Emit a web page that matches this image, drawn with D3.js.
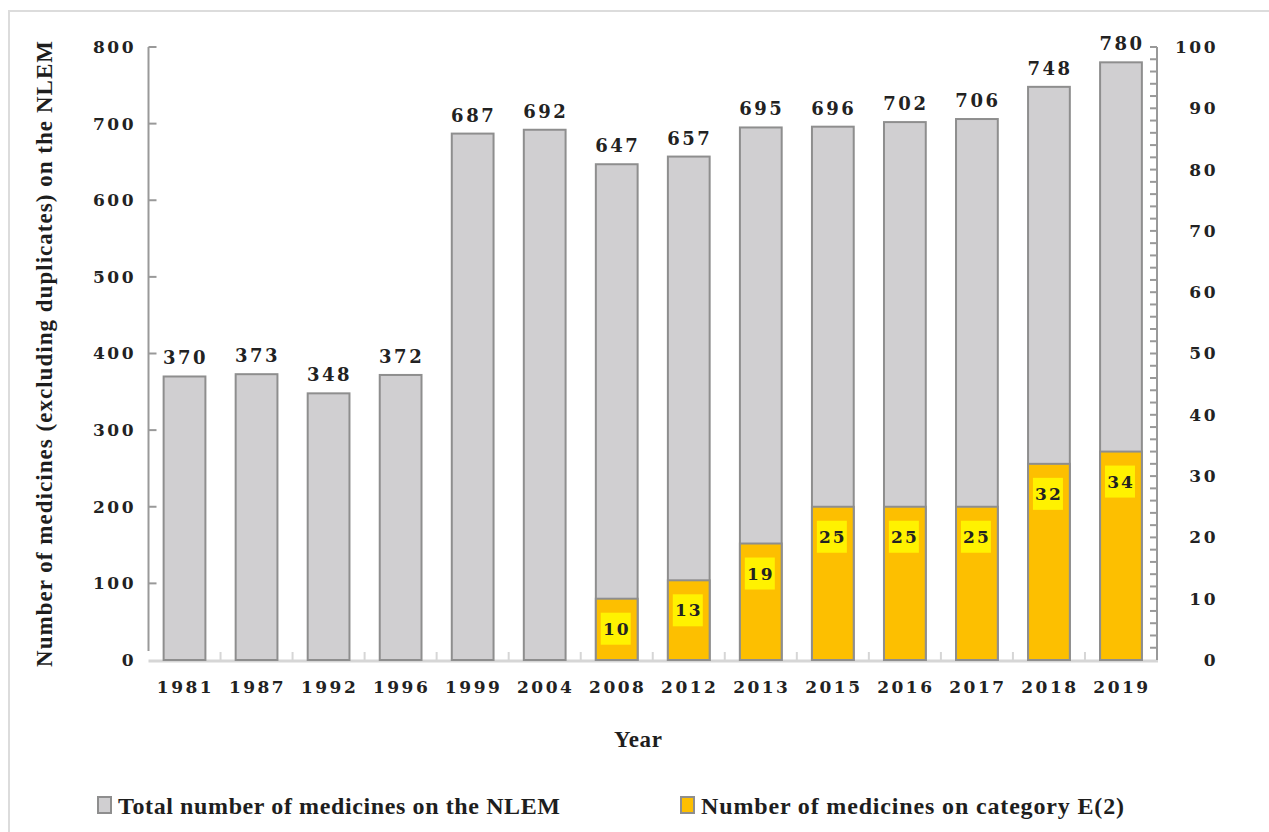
<!DOCTYPE html>
<html>
<head>
<meta charset="utf-8">
<script src="https://cdn.jsdelivr.net/npm/d3@7"></script>
<style>
html,body{margin:0;padding:0;background:#fff;}
svg{display:block;}
.num{font-family:"DejaVu Serif",serif;font-weight:bold;font-size:17px;letter-spacing:2.5px;fill:#222;}
.ttl{font-family:"Liberation Serif","Times New Roman",serif;font-weight:bold;font-size:23px;fill:#1e1e1e;}
</style>
</head>
<body>
<svg id="chart" width="1269" height="832"></svg>
<script>
const years = ["1981","1987","1992","1996","1999","2004","2008","2012","2013","2015","2016","2017","2018","2019"];
const totalMedicines = [370,373,348,372,687,692,647,657,695,696,702,706,748,780];
const e2Years = ["2008","2012","2013","2015","2016","2017","2018","2019"];
const e2Medicines = [10,13,19,25,25,25,32,34];
const leftTicks = [0,100,200,300,400,500,600,700,800];
const rightTicks = [0,10,20,30,40,50,60,70,80,90,100];
const legendLabels = ["Total number of medicines on the NLEM","Number of medicines on category E(2)"];

const svg = d3.select("#chart");
const grey = "#d0cfd1", greyStroke = "#8e8e8e", orange = "#fdbf00", yellowBox = "#fff200";

// frame
svg.append("rect").attr("x",9).attr("y",11).attr("width",1300).attr("height",900)
  .attr("fill","none").attr("stroke","#dcdcdc").attr("stroke-width",2);

const x0 = 148.5, x1 = 1157, yTop = 47, yBot = 660;
const p = 0.42;
const x = d3.scaleBand().domain(years).range([x0,x1]).paddingInner(p).paddingOuter(p/2);
const yL = d3.scaleLinear().domain([0,800]).range([yBot,yTop]);
const yR = d3.scaleLinear().domain([0,100]).range([yBot,yTop]);

// baseline
svg.append("line").attr("x1",x0).attr("x2",x1+1).attr("y1",yBot+1).attr("y2",yBot+1)
  .attr("stroke","#d6d6d6").attr("stroke-width",3);
// category boundary ticks
const step = x.step();
years.slice(0,-1).forEach(d=>{
  const bx = x(d) + x.bandwidth() + (step - x.bandwidth())/2;
  svg.append("line").attr("x1",bx).attr("x2",bx).attr("y1",yBot).attr("y2",yBot-8)
    .attr("stroke","#d6d6d6").attr("stroke-width",2);
});

// left axis
svg.append("line").attr("x1",x0).attr("x2",x0).attr("y1",yTop).attr("y2",yBot-9)
  .attr("stroke","#999").attr("stroke-width",2);
leftTicks.forEach(t=>{
  if(t>0) svg.append("line").attr("x1",x0).attr("x2",x0+8).attr("y1",yL(t)).attr("y2",yL(t))
    .attr("stroke","#999").attr("stroke-width",2);
  svg.append("text").attr("class","num").attr("x",136).attr("y",yL(t)).attr("dy","0.35em")
    .attr("text-anchor","end").text(t);
});

// right axis
svg.append("line").attr("x1",x1).attr("x2",x1).attr("y1",yTop).attr("y2",yBot)
  .attr("stroke","#999").attr("stroke-width",2);
d3.range(0,101,2).forEach(t=>{
  if(t>0) svg.append("line").attr("x1",x1).attr("x2",x1-7).attr("y1",yR(t)).attr("y2",yR(t))
    .attr("stroke","#999").attr("stroke-width",2);
});
rightTicks.forEach(t=>{
  svg.append("text").attr("class","num").attr("x",1218).attr("y",yR(t)).attr("dy","0.35em")
    .attr("text-anchor","end").text(t);
});

// grey bars
const totals = years.map((y,i)=>({year:y,v:totalMedicines[i]}));
svg.selectAll("rect.tot").data(totals).enter().append("rect").attr("class","tot")
  .attr("x",d=>x(d.year)).attr("width",x.bandwidth())
  .attr("y",d=>yL(d.v)).attr("height",d=>yBot-yL(d.v))
  .attr("fill",grey).attr("stroke",greyStroke).attr("stroke-width",2);
svg.selectAll("text.tl").data(totals).enter().append("text").attr("class","num tl")
  .attr("x",d=>x(d.year)+x.bandwidth()/2+1).attr("y",d=>yL(d.v)-12)
  .attr("text-anchor","middle").style("font-size","18px").text(d=>d.v);

// orange bars
const e2 = e2Years.map((y,i)=>({year:y,v:e2Medicines[i]}));
svg.selectAll("rect.e2").data(e2).enter().append("rect").attr("class","e2")
  .attr("x",d=>x(d.year)).attr("width",x.bandwidth())
  .attr("y",d=>yR(d.v)).attr("height",d=>yBot-yR(d.v))
  .attr("fill",orange).attr("stroke",greyStroke).attr("stroke-width",2);
const g2 = svg.selectAll("g.e2l").data(e2).enter().append("g").attr("class","e2l")
  .attr("transform",d=>`translate(${x(d.year)+x.bandwidth()/2-1},${yR(d.v)+30})`);
g2.append("rect").attr("x",-15).attr("y",-16).attr("width",30).attr("height",32).attr("fill",yellowBox);
g2.append("text").attr("class","num").attr("x",1).attr("dy","0.36em").attr("text-anchor","middle")
  .style("font-size","17px").style("letter-spacing","2px").text(d=>d.v);

// x labels
years.forEach(y=>{
  svg.append("text").attr("class","num").attr("x",x(y)+x.bandwidth()/2+1).attr("y",687)
    .attr("dy","0.35em").attr("text-anchor","middle").text(y);
});

// axis titles
svg.append("text").attr("class","ttl").attr("transform","translate(52,354) rotate(-90)")
  .attr("text-anchor","middle").attr("textLength",626).attr("lengthAdjust","spacing")
  .text("Number of medicines (excluding duplicates) on the NLEM");
svg.append("text").attr("class","ttl").attr("x",638).attr("y",739).attr("dy","0.35em")
  .attr("text-anchor","middle").attr("textLength",48).attr("lengthAdjust","spacing").text("Year");

// legend
const legendX = [96, 679];
const legendW = [442, 423];
const legendFill = [grey, orange];
legendLabels.forEach((l,i)=>{
  svg.append("rect").attr("x",legendX[i]+2).attr("y",797).attr("width",13).attr("height",16)
    .attr("fill",legendFill[i]).attr("stroke",greyStroke).attr("stroke-width",2);
  svg.append("text").attr("class","ttl").attr("x",legendX[i]+22).attr("y",806).attr("dy","0.35em")
    .style("font-size","24px").attr("textLength",legendW[i]).attr("lengthAdjust","spacing").text(l);
});
</script>
</body>
</html>
